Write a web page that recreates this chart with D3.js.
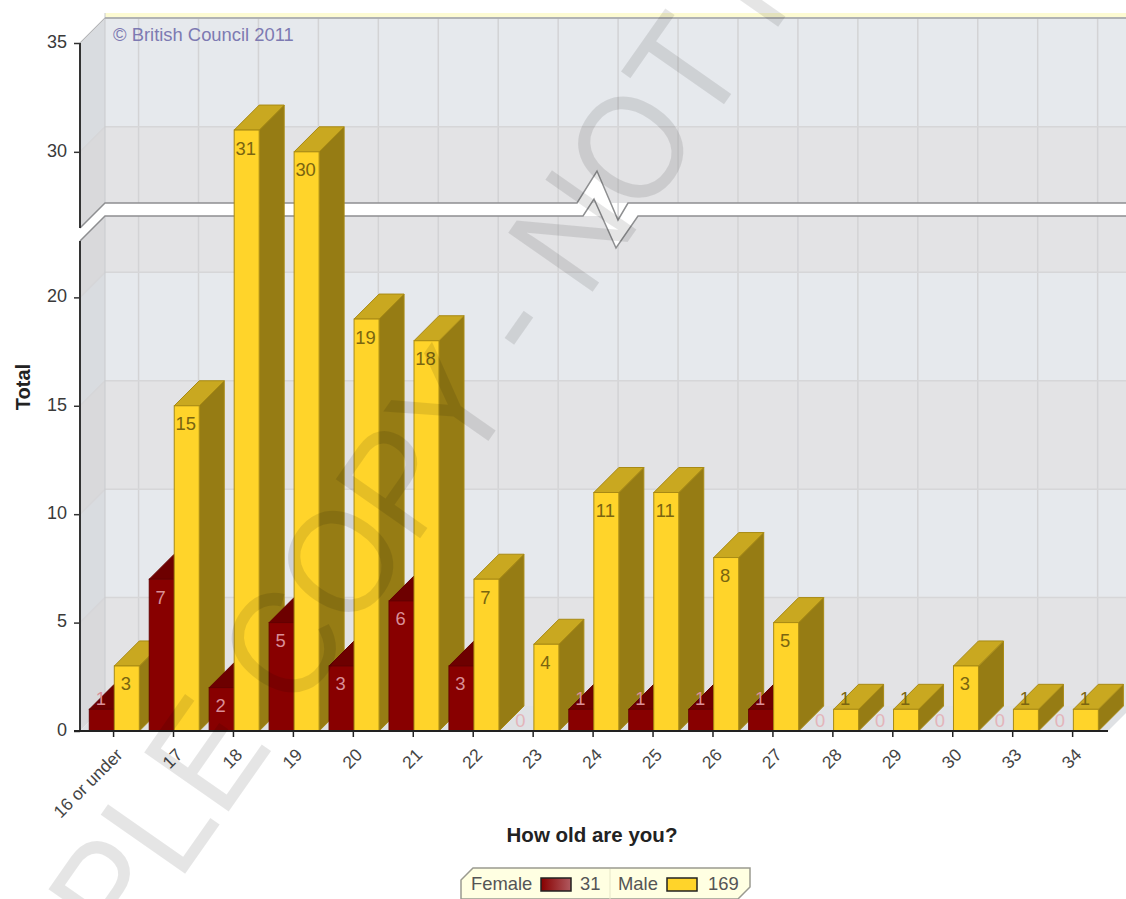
<!DOCTYPE html>
<html>
<head>
<meta charset="utf-8">
<script src="https://cdn.jsdelivr.net/npm/d3@7"></script>
<style>
  html, body { margin: 0; padding: 0; background: #fff; }
  svg { display: block; font-family: "Liberation Sans", Arial, sans-serif; }
</style>
</head>
<body>
<svg id="chart" width="1126" height="899"></svg>
<script>
// Age distribution of respondents, split by gender
const categories = ["16 or under","17","18","19","20","21","22","23","24","25","26","27","28","29","30","33","34"];
const female = [1,7,2,5,3,6,3,0,1,1,1,1,0,0,0,0,0];
const male   = [3,15,31,30,19,18,7,4,11,11,8,5,1,1,3,1,1];
const yTicks = [0,5,10,15,20,30,35];
const breakLow = 22.6, breakHigh = 26.5;
const wallBands = [[0,5,"d"],[5,10,"l"],[10,15,"d"],[15,20,"l"],[20,breakLow,"d"],[breakHigh,30,"d"],[30,35,"l"]];
const wallLines = [5,10,15,20,30,35];
const legendItems = [["Female", 31], ["Male", 169]];

const svg = d3.select("#chart");
const depth = 25;

const x = d3.scaleBand().domain(categories).range([83.6, 1102.6]);
const inner = d3.scaleBand().domain(["Female","Male"]).range([5.7, 55.7]);
// The value axis skips the empty stretch between breakLow and breakHigh
const y = d3.scaleLinear().domain([0, breakLow, breakHigh, 35]).range([731, 241, 228, 43]);

const axisX = 80, floorEnd = 1108;

// ---- wall, floor and left side ----
const wall = svg.append("g");
const bandFill = { d: "#e3e3e5", l: "#e6e9ed" };
const sideFill = { d: "#d9d9db", l: "#d9dce0" };

wall.append("rect").attr("x", axisX + depth).attr("y", y(35) - depth - 5)
  .attr("width", 1126).attr("height", 5).attr("fill", "#fdfbd2");

wall.selectAll("rect.band").data(wallBands).join("rect")
  .attr("class", "band")
  .attr("x", axisX + depth).attr("width", 1126)
  .attr("y", d => y(d[1]) - depth)
  .attr("height", d => y(d[0]) - y(d[1]))
  .attr("fill", d => bandFill[d[2]]);

wall.selectAll("path.side").data(wallBands).join("path")
  .attr("class", "side")
  .attr("d", d => `M${axisX},${y(d[0])}L${axisX + depth},${y(d[0]) - depth}L${axisX + depth},${y(d[1]) - depth}L${axisX},${y(d[1])}Z`)
  .attr("fill", d => sideFill[d[2]]);

wall.append("path")
  .attr("d", `M${axisX},${y(0)}L${axisX + depth},${y(0) - depth}L${floorEnd + depth},${y(0) - depth}L${floorEnd},${y(0)}Z`)
  .attr("fill", "#dfe1e4");

// Vertical grid on the back wall
const gridX = categories.map(c => x(c) + x.step() / 2 + depth);
wall.selectAll("line.vgrid").data(gridX).join("line")
  .attr("class", "vgrid")
  .attr("x1", d => d).attr("x2", d => d)
  .attr("y1", y(35) - depth).attr("y2", y(0) - depth)
  .attr("stroke", "#d3d3d5").attr("stroke-width", 1.5);

wall.selectAll("path.hgrid").data(wallLines).join("path")
  .attr("class", "hgrid")
  .attr("d", d => `M${axisX},${y(d)}L${axisX + depth},${y(d) - depth}L1126,${y(d) - depth}`)
  .attr("fill", "none").attr("stroke", "#d6d6d8").attr("stroke-width", 1.5);

wall.append("line")
  .attr("x1", axisX + depth).attr("x2", axisX + depth)
  .attr("y1", y(35) - depth - 5).attr("y2", y(0) - depth)
  .attr("stroke", "#c9cbce").attr("stroke-width", 1);
wall.append("line")
  .attr("x1", axisX + depth).attr("x2", 1126)
  .attr("y1", y(35) - depth).attr("y2", y(35) - depth)
  .attr("stroke", "#a2a4a6").attr("stroke-width", 1.5);
wall.append("line")
  .attr("x1", axisX).attr("y1", y(35))
  .attr("x2", axisX + depth).attr("y2", y(35) - depth)
  .attr("stroke", "#b5b7b9").attr("stroke-width", 1);

// ---- the torn strip across the wall where the scale is broken ----
const upperY = y(breakHigh) - depth, lowerY = y(breakLow) - depth;
const upperEdge = [[axisX, y(breakHigh)], [axisX + depth, upperY], [577, upperY], [597, upperY - 32], [618, upperY + 17], [628, upperY], [1126, upperY]];
const lowerEdge = [[axisX, y(breakLow)], [axisX + depth, lowerY], [583, lowerY], [594, lowerY - 17], [616, lowerY + 32], [638, lowerY], [1126, lowerY]];
const edgeLine = d3.line();
wall.append("path")
  .attr("d", edgeLine(upperEdge.concat(lowerEdge.slice().reverse())) + "Z")
  .attr("fill", "#fff");
[upperEdge, lowerEdge].forEach(edge => {
  wall.append("path").attr("d", edgeLine(edge))
    .attr("fill", "none").attr("stroke", "#8e8f91").attr("stroke-width", 1.5);
});

// ---- copyright note on the wall ----
svg.append("text").attr("x", 113).attr("y", 41)
  .attr("font-size", 18.4).attr("fill", "#7d7ab2")
  .text("© British Council 2011");

// ---- 3D bars ----
const palette = {
  Female: { front: "#880000", top: "#6d0000", side: "#5c0000", edge: "#640000", label: "#d98f98" },
  Male:   { front: "#ffd42a", top: "#c9a820", side: "#967c14", edge: "#a88a14", label: "#7a6510" }
};
const rows = [];
categories.forEach((c, i) => {
  rows.push({ cat: c, series: "Female", value: female[i] });
  rows.push({ cat: c, series: "Male", value: male[i] });
});

const bars = svg.append("g").selectAll("g").data(rows.filter(d => d.value > 0)).join("g");
const left = d => x(d.cat) + inner(d.series);
const w = inner.bandwidth();

bars.append("path")
  .attr("d", d => {
    const l = left(d) + w, t = y(d.value), b = y(0);
    return `M${l},${t}L${l + depth},${t - depth}L${l + depth},${b - depth}L${l},${b}Z`;
  })
  .attr("fill", d => palette[d.series].side)
  .attr("stroke", d => palette[d.series].edge);
bars.append("path")
  .attr("d", d => {
    const l = left(d), t = y(d.value);
    return `M${l},${t}L${l + depth},${t - depth}L${l + w + depth},${t - depth}L${l + w},${t}Z`;
  })
  .attr("fill", d => palette[d.series].top)
  .attr("stroke", d => palette[d.series].edge);
bars.append("rect")
  .attr("x", left).attr("width", w)
  .attr("y", d => y(d.value)).attr("height", d => y(0) - y(d.value))
  .attr("fill", d => palette[d.series].front)
  .attr("stroke", d => palette[d.series].edge);

// Value labels: inside the front face, or on the top face for a bar of one
svg.append("g").selectAll("text").data(rows).join("text")
  .attr("x", d => left(d) + w / 2 - 1)
  .attr("y", d => {
    if (d.value === 0) return y(0) - 4;
    return d.value === 1 ? y(1) - 4.5 : y(d.value) + 24.5;
  })
  .attr("text-anchor", "middle").attr("font-size", 18.4)
  .attr("fill", d => d.value === 0 ? "#e3b4ba" : palette[d.series].label)
  .text(d => d.value);

// ---- axes ----
const yAxis = svg.append("g").attr("transform", `translate(${axisX},0)`)
  .call(d3.axisLeft(y).tickValues(yTicks).tickSize(6).tickPadding(7));
yAxis.select(".domain").remove();
yAxis.selectAll("line").attr("stroke", "#333").attr("stroke-width", 1.5);
yAxis.selectAll("text").attr("font-size", 18).attr("fill", "#3a3a3a")
  .attr("font-family", "Liberation Sans")
  .attr("y", -1.5);

[[y(35), y(breakHigh)], [y(breakLow), y(0)]].forEach(seg => {
  svg.append("line").attr("x1", axisX).attr("x2", axisX)
    .attr("y1", seg[0]).attr("y2", seg[1])
    .attr("stroke", "#333").attr("stroke-width", 2);
});

const xAxis = svg.append("g").attr("transform", `translate(0,${y(0)})`)
  .call(d3.axisBottom(x).tickSize(6));
xAxis.select(".domain").remove();
xAxis.selectAll("line").attr("stroke", "#222").attr("stroke-width", 1.5);
xAxis.selectAll("text")
  .attr("font-size", 17.4).attr("fill", "#444").attr("font-family", "Liberation Sans")
  .attr("text-anchor", "end")
  .attr("x", 0).attr("y", 0).attr("dy", 0)
  .attr("transform", "translate(10,25) rotate(-45)");
svg.append("line").attr("x1", 74).attr("x2", floorEnd)
  .attr("y1", y(0)).attr("y2", y(0))
  .attr("stroke", "#222").attr("stroke-width", 2);

svg.append("text").attr("transform", "translate(30,387) rotate(-90)")
  .attr("text-anchor", "middle").attr("font-size", 20).attr("font-weight", "bold")
  .attr("fill", "#222").text("Total");
svg.append("text").attr("x", 592).attr("y", 842)
  .attr("text-anchor", "middle").attr("font-size", 20.5).attr("font-weight", "bold")
  .attr("fill", "#222").text("How old are you?");

// ---- legend plate with clipped corners ----
const legend = svg.append("g");
legend.append("path")
  .attr("d", "M473,868L750,868L750,887L738,899L461,899L461,880Z")
  .attr("fill", "#ffffe2").attr("stroke", "#9a9a90").attr("stroke-width", 1.5);
legend.append("line").attr("x1", 610).attr("x2", 610).attr("y1", 869).attr("y2", 899)
  .attr("stroke", "#e6e6c8");
const legendX = [471, 618];
const swatchX = [541, 667];
const countX = [580, 708];
const legendFill = ["url(#femaleSwatch)", "#ffd42a"];
const defs = svg.append("defs");
const grad = defs.append("linearGradient").attr("id", "femaleSwatch");
grad.append("stop").attr("offset", 0).attr("stop-color", "#880000");
grad.append("stop").attr("offset", 1).attr("stop-color", "#b05a60");
legendItems.forEach((it, i) => {
  legend.append("text").attr("x", legendX[i]).attr("y", 890)
    .attr("font-size", 18.4).attr("fill", "#555").text(it[0]);
  legend.append("rect").attr("x", swatchX[i]).attr("y", 878)
    .attr("width", 30).attr("height", 13)
    .attr("fill", legendFill[i]).attr("stroke", "#222").attr("stroke-width", 1.5);
  legend.append("text").attr("x", countX[i]).attr("y", 890)
    .attr("font-size", 18.4).attr("fill", "#555").text(it[1]);
});

// ---- diagonal watermark over everything, slightly condensed ----
const mark = svg.append("text")
  .attr("font-size", 150).attr("fill", "#000").attr("fill-opacity", 0.1)
  .style("pointer-events", "none")
  .text("SAMPLE COPY - NOT FOR");
const node = mark.node();
const squeeze = 0.91;
const anchorIndex = "SAMPLE COPY - NOT".length - 1;
const along = squeeze * (node.getStartPositionOfChar(anchorIndex).x + node.getSubStringLength(anchorIndex, 1) / 2);
const angle = -55 * Math.PI / 180;
mark.attr("transform", `translate(${727 - along * Math.cos(angle)},${100 - along * Math.sin(angle)}) rotate(-55) scale(${squeeze},1)`);
</script>
</body>
</html>
